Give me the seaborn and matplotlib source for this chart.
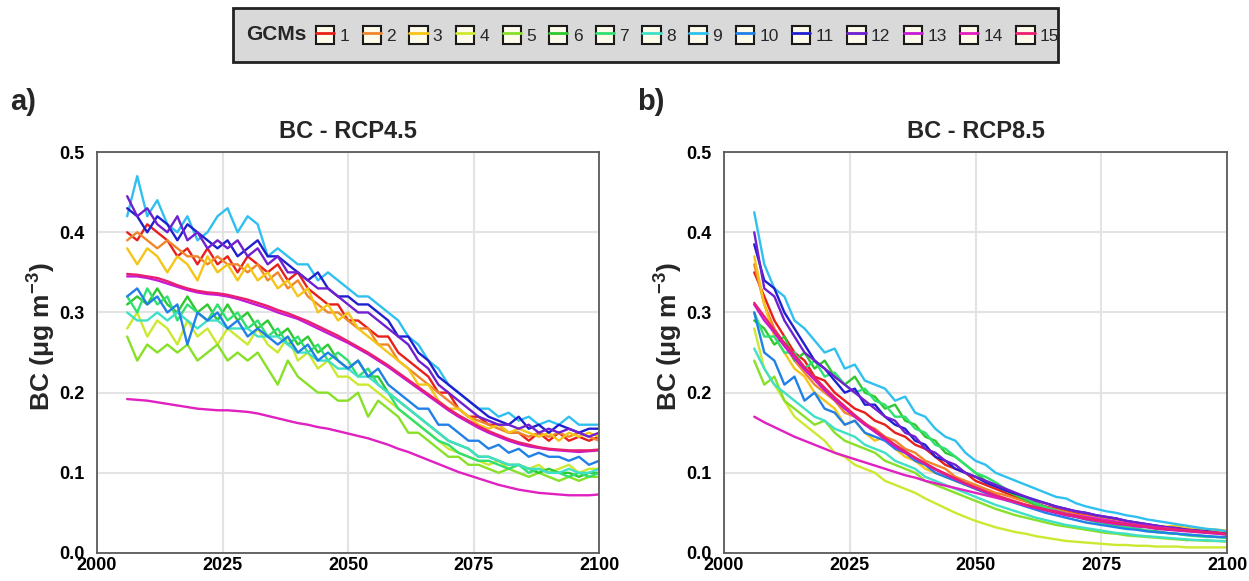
import numpy as np
import pandas as pd
import seaborn as sns
import matplotlib
matplotlib.use("Agg")
import matplotlib.pyplot as plt
from matplotlib.patches import Rectangle
from matplotlib.lines import Line2D

# ---------------- data ----------------
years = list(range(2006, 2101, 2))
gcm_labels = [str(i) for i in range(1, 16)]
gcm_colors = ["#e8201c", "#f0862c", "#f5c518", "#cde830", "#88e028", "#30c830",
              "#30e070", "#40e0c8", "#30c0f0", "#2080e8", "#2020d0", "#7020d0",
              "#c818d8", "#e020c0", "#e82070"]

rcp45 = {
    "1": [0.40, 0.39, 0.41, 0.40, 0.39, 0.37, 0.38, 0.36, 0.38, 0.36, 0.37, 0.35,
          0.37, 0.36, 0.35, 0.36, 0.34, 0.35, 0.33, 0.32, 0.31, 0.31, 0.29, 0.29,
          0.28, 0.27, 0.27, 0.25, 0.24, 0.23, 0.22, 0.20, 0.20, 0.18, 0.17, 0.17,
          0.16, 0.16, 0.15, 0.15, 0.14, 0.15, 0.14, 0.15, 0.14, 0.145, 0.14, 0.145],
    "2": [0.39, 0.40, 0.39, 0.38, 0.39, 0.38, 0.37, 0.37, 0.36, 0.37, 0.36, 0.36,
          0.35, 0.36, 0.34, 0.35, 0.33, 0.34, 0.32, 0.31, 0.30, 0.30, 0.29, 0.28,
          0.28, 0.26, 0.26, 0.24, 0.23, 0.22, 0.21, 0.20, 0.19, 0.18, 0.17, 0.165,
          0.16, 0.155, 0.15, 0.15, 0.145, 0.15, 0.145, 0.15, 0.145, 0.15, 0.145, 0.14],
    "3": [0.38, 0.36, 0.38, 0.37, 0.35, 0.37, 0.36, 0.34, 0.37, 0.35, 0.36, 0.34,
          0.36, 0.34, 0.35, 0.33, 0.34, 0.32, 0.33, 0.30, 0.31, 0.29, 0.30, 0.28,
          0.27, 0.26, 0.25, 0.24, 0.23, 0.21, 0.21, 0.19, 0.18, 0.18, 0.17, 0.16,
          0.155, 0.16, 0.15, 0.155, 0.15, 0.145, 0.15, 0.14, 0.15, 0.145, 0.15, 0.145],
    "4": [0.28, 0.30, 0.27, 0.29, 0.28, 0.26, 0.29, 0.27, 0.28, 0.26, 0.28, 0.27,
          0.26, 0.28, 0.26, 0.25, 0.27, 0.24, 0.25, 0.23, 0.24, 0.22, 0.22, 0.21,
          0.21, 0.20, 0.19, 0.18, 0.17, 0.16, 0.15, 0.14, 0.13, 0.125, 0.12, 0.115,
          0.11, 0.115, 0.105, 0.11, 0.105, 0.11, 0.10, 0.105, 0.11, 0.10, 0.105, 0.105],
    "5": [0.27, 0.24, 0.26, 0.25, 0.26, 0.25, 0.26, 0.24, 0.25, 0.26, 0.24, 0.25,
          0.24, 0.25, 0.23, 0.21, 0.24, 0.22, 0.21, 0.20, 0.20, 0.19, 0.19, 0.20,
          0.17, 0.19, 0.18, 0.17, 0.15, 0.15, 0.14, 0.13, 0.12, 0.12, 0.11, 0.11,
          0.105, 0.10, 0.105, 0.10, 0.095, 0.10, 0.095, 0.09, 0.095, 0.09, 0.095, 0.095],
    "6": [0.31, 0.32, 0.31, 0.33, 0.31, 0.30, 0.32, 0.30, 0.31, 0.29, 0.31, 0.29,
          0.30, 0.28, 0.29, 0.27, 0.28, 0.26, 0.27, 0.25, 0.26, 0.24, 0.23, 0.24,
          0.22, 0.22, 0.20, 0.19, 0.18, 0.17, 0.16, 0.15, 0.14, 0.135, 0.13, 0.12,
          0.12, 0.115, 0.11, 0.11, 0.105, 0.10, 0.105, 0.10, 0.10, 0.095, 0.10, 0.10],
    "7": [0.32, 0.30, 0.33, 0.31, 0.32, 0.29, 0.31, 0.30, 0.29, 0.31, 0.29, 0.30,
          0.28, 0.29, 0.27, 0.28, 0.26, 0.27, 0.25, 0.26, 0.24, 0.25, 0.24, 0.22,
          0.23, 0.21, 0.20, 0.18, 0.17, 0.16, 0.15, 0.14, 0.135, 0.125, 0.12, 0.115,
          0.115, 0.11, 0.105, 0.11, 0.10, 0.105, 0.10, 0.10, 0.095, 0.10, 0.095, 0.10],
    "8": [0.30, 0.29, 0.29, 0.30, 0.29, 0.30, 0.29, 0.28, 0.29, 0.29, 0.28, 0.28,
          0.28, 0.27, 0.27, 0.27, 0.26, 0.25, 0.25, 0.24, 0.24, 0.23, 0.23, 0.22,
          0.22, 0.21, 0.20, 0.19, 0.18, 0.17, 0.16, 0.15, 0.14, 0.135, 0.13, 0.12,
          0.12, 0.115, 0.11, 0.11, 0.105, 0.105, 0.10, 0.10, 0.105, 0.10, 0.10, 0.105],
    "9": [0.42, 0.47, 0.42, 0.44, 0.41, 0.40, 0.42, 0.39, 0.40, 0.42, 0.43, 0.40,
          0.42, 0.41, 0.37, 0.38, 0.37, 0.36, 0.36, 0.34, 0.35, 0.34, 0.33, 0.32,
          0.32, 0.31, 0.30, 0.29, 0.27, 0.26, 0.24, 0.23, 0.21, 0.20, 0.19, 0.18,
          0.18, 0.17, 0.175, 0.165, 0.17, 0.16, 0.165, 0.16, 0.17, 0.16, 0.16, 0.16],
    "10": [0.32, 0.33, 0.31, 0.32, 0.30, 0.31, 0.26, 0.30, 0.29, 0.30, 0.28, 0.29,
           0.27, 0.28, 0.27, 0.26, 0.27, 0.25, 0.26, 0.24, 0.25, 0.24, 0.23, 0.24,
           0.22, 0.23, 0.21, 0.20, 0.19, 0.18, 0.18, 0.16, 0.16, 0.15, 0.14, 0.14,
           0.13, 0.135, 0.125, 0.13, 0.12, 0.125, 0.12, 0.12, 0.115, 0.12, 0.11, 0.115],
    "11": [0.43, 0.42, 0.40, 0.42, 0.41, 0.39, 0.41, 0.40, 0.39, 0.38, 0.39, 0.37,
           0.38, 0.39, 0.37, 0.37, 0.36, 0.35, 0.34, 0.35, 0.33, 0.32, 0.32, 0.31,
           0.31, 0.30, 0.29, 0.27, 0.27, 0.25, 0.24, 0.22, 0.21, 0.20, 0.19, 0.18,
           0.17, 0.165, 0.16, 0.17, 0.155, 0.16, 0.15, 0.16, 0.155, 0.15, 0.155, 0.155],
    "12": [0.445, 0.42, 0.43, 0.41, 0.40, 0.42, 0.39, 0.40, 0.38, 0.39, 0.38, 0.39,
           0.37, 0.38, 0.36, 0.37, 0.35, 0.35, 0.34, 0.33, 0.33, 0.32, 0.31, 0.30,
           0.30, 0.29, 0.28, 0.27, 0.26, 0.24, 0.23, 0.21, 0.20, 0.19, 0.18, 0.17,
           0.165, 0.16, 0.16, 0.155, 0.16, 0.15, 0.155, 0.15, 0.155, 0.15, 0.145, 0.15],
    "13": [0.345, 0.345, 0.343, 0.340, 0.336, 0.332, 0.328, 0.325, 0.323, 0.322, 0.320, 0.317,
           0.313, 0.309, 0.305, 0.300, 0.296, 0.292, 0.286, 0.280, 0.274, 0.268, 0.262, 0.255,
           0.248, 0.240, 0.232, 0.223, 0.214, 0.205, 0.196, 0.187, 0.178, 0.170, 0.163, 0.156,
           0.150, 0.145, 0.140, 0.136, 0.133, 0.131, 0.129, 0.128, 0.127, 0.126, 0.127, 0.128],
    "14": [0.192, 0.191, 0.190, 0.188, 0.186, 0.184, 0.182, 0.180, 0.179, 0.178, 0.178, 0.177,
           0.176, 0.174, 0.171, 0.168, 0.165, 0.162, 0.160, 0.157, 0.155, 0.152, 0.149, 0.146,
           0.143, 0.139, 0.135, 0.130, 0.126, 0.121, 0.116, 0.111, 0.106, 0.101, 0.097, 0.093,
           0.089, 0.085, 0.082, 0.079, 0.077, 0.075, 0.074, 0.073, 0.072, 0.072, 0.072, 0.073],
    "15": [0.348, 0.347, 0.345, 0.343, 0.339, 0.334, 0.330, 0.327, 0.325, 0.324, 0.322, 0.319,
           0.316, 0.312, 0.308, 0.303, 0.299, 0.294, 0.289, 0.283, 0.277, 0.271, 0.264, 0.257,
           0.250, 0.242, 0.234, 0.225, 0.216, 0.207, 0.198, 0.189, 0.180, 0.172, 0.165, 0.158,
           0.152, 0.147, 0.142, 0.138, 0.135, 0.132, 0.130, 0.129, 0.128, 0.128, 0.128, 0.129],
}

rcp85 = {
    "1": [0.35, 0.32, 0.29, 0.27, 0.25, 0.24, 0.22, 0.215, 0.20, 0.19, 0.18, 0.175,
          0.165, 0.16, 0.15, 0.145, 0.135, 0.13, 0.12, 0.11, 0.105, 0.10, 0.09, 0.085,
          0.08, 0.075, 0.07, 0.066, 0.062, 0.058, 0.055, 0.052, 0.049, 0.047, 0.044, 0.042,
          0.04, 0.038, 0.036, 0.034, 0.032, 0.031, 0.03, 0.028, 0.027, 0.026, 0.025, 0.024],
    "2": [0.36, 0.31, 0.28, 0.26, 0.24, 0.225, 0.21, 0.20, 0.19, 0.175, 0.17, 0.16,
          0.155, 0.145, 0.14, 0.13, 0.125, 0.115, 0.11, 0.105, 0.095, 0.09, 0.085, 0.08,
          0.075, 0.072, 0.068, 0.064, 0.06, 0.057, 0.054, 0.051, 0.048, 0.046, 0.044, 0.042,
          0.04, 0.038, 0.036, 0.035, 0.033, 0.032, 0.031, 0.03, 0.029, 0.028, 0.027, 0.026],
    "3": [0.37, 0.31, 0.27, 0.25, 0.23, 0.22, 0.20, 0.19, 0.18, 0.16, 0.165, 0.15,
          0.14, 0.145, 0.13, 0.12, 0.115, 0.105, 0.10, 0.095, 0.09, 0.085, 0.08, 0.075,
          0.072, 0.068, 0.064, 0.06, 0.057, 0.054, 0.051, 0.049, 0.047, 0.045, 0.043, 0.041,
          0.039, 0.037, 0.036, 0.035, 0.034, 0.033, 0.034, 0.031, 0.03, 0.03, 0.029, 0.028],
    "4": [0.28, 0.23, 0.21, 0.19, 0.17, 0.16, 0.15, 0.14, 0.125, 0.12, 0.11, 0.105,
          0.10, 0.09, 0.085, 0.08, 0.075, 0.068, 0.062, 0.056, 0.05, 0.045, 0.04, 0.036,
          0.032, 0.029, 0.026, 0.024, 0.021, 0.019, 0.017, 0.015, 0.014, 0.013, 0.012, 0.011,
          0.01, 0.01, 0.009, 0.009, 0.008, 0.008, 0.008, 0.007, 0.007, 0.007, 0.007, 0.007],
    "5": [0.24, 0.21, 0.22, 0.19, 0.18, 0.17, 0.16, 0.165, 0.15, 0.14, 0.135, 0.13,
          0.125, 0.115, 0.11, 0.105, 0.10, 0.09, 0.085, 0.08, 0.075, 0.07, 0.065, 0.06,
          0.055, 0.051, 0.047, 0.044, 0.041, 0.038, 0.035, 0.033, 0.031, 0.029, 0.027, 0.025,
          0.024, 0.022, 0.021, 0.02, 0.019, 0.018, 0.017, 0.016, 0.016, 0.015, 0.015, 0.014],
    "6": [0.29, 0.28, 0.26, 0.27, 0.24, 0.25, 0.23, 0.24, 0.22, 0.21, 0.22, 0.20,
          0.195, 0.18, 0.185, 0.165, 0.16, 0.145, 0.14, 0.125, 0.12, 0.11, 0.10, 0.09,
          0.085, 0.078, 0.072, 0.066, 0.06, 0.056, 0.052, 0.048, 0.045, 0.042, 0.039, 0.036,
          0.034, 0.032, 0.03, 0.028, 0.027, 0.025, 0.024, 0.023, 0.022, 0.021, 0.02, 0.019],
    "7": [0.30, 0.27, 0.27, 0.25, 0.25, 0.23, 0.24, 0.22, 0.225, 0.21, 0.20, 0.205,
          0.19, 0.185, 0.17, 0.17, 0.155, 0.15, 0.135, 0.13, 0.12, 0.11, 0.10, 0.095,
          0.088, 0.08, 0.074, 0.068, 0.062, 0.057, 0.053, 0.049, 0.045, 0.042, 0.039, 0.036,
          0.034, 0.032, 0.03, 0.028, 0.026, 0.025, 0.024, 0.022, 0.021, 0.02, 0.02, 0.019],
    "8": [0.255, 0.23, 0.21, 0.20, 0.19, 0.18, 0.17, 0.165, 0.155, 0.15, 0.145, 0.135,
          0.13, 0.125, 0.115, 0.11, 0.105, 0.095, 0.09, 0.085, 0.08, 0.075, 0.07, 0.065,
          0.06, 0.056, 0.052, 0.048, 0.044, 0.041, 0.038, 0.035, 0.033, 0.031, 0.029, 0.027,
          0.025, 0.024, 0.022, 0.021, 0.02, 0.019, 0.018, 0.017, 0.016, 0.016, 0.015, 0.015],
    "9": [0.425, 0.36, 0.33, 0.32, 0.29, 0.28, 0.265, 0.25, 0.255, 0.23, 0.235, 0.215,
          0.21, 0.205, 0.19, 0.195, 0.175, 0.17, 0.155, 0.145, 0.14, 0.125, 0.115, 0.11,
          0.10, 0.095, 0.09, 0.085, 0.08, 0.075, 0.07, 0.068, 0.062, 0.058, 0.055, 0.052,
          0.05, 0.047, 0.045, 0.042, 0.04, 0.038, 0.036, 0.034, 0.032, 0.03, 0.029, 0.027],
    "10": [0.30, 0.25, 0.24, 0.21, 0.22, 0.19, 0.20, 0.18, 0.175, 0.16, 0.165, 0.15,
           0.145, 0.14, 0.13, 0.125, 0.115, 0.11, 0.10, 0.095, 0.09, 0.085, 0.08, 0.075,
           0.07, 0.066, 0.062, 0.058, 0.054, 0.05, 0.047, 0.044, 0.041, 0.038, 0.036, 0.034,
           0.032, 0.03, 0.029, 0.027, 0.026, 0.025, 0.024, 0.023, 0.022, 0.021, 0.02, 0.02],
    "11": [0.385, 0.34, 0.33, 0.30, 0.28, 0.26, 0.24, 0.23, 0.215, 0.20, 0.205, 0.185,
           0.185, 0.17, 0.16, 0.155, 0.14, 0.135, 0.12, 0.115, 0.105, 0.10, 0.095, 0.088,
           0.083, 0.078, 0.074, 0.07, 0.066, 0.062, 0.058, 0.055, 0.052, 0.05, 0.047, 0.045,
           0.043, 0.04, 0.038, 0.036, 0.034, 0.032, 0.031, 0.029, 0.028, 0.027, 0.025, 0.024],
    "12": [0.40, 0.33, 0.32, 0.29, 0.27, 0.25, 0.24, 0.23, 0.22, 0.21, 0.20, 0.19,
           0.18, 0.17, 0.165, 0.15, 0.145, 0.13, 0.125, 0.115, 0.11, 0.10, 0.095, 0.09,
           0.085, 0.08, 0.075, 0.07, 0.065, 0.062, 0.058, 0.055, 0.052, 0.05, 0.047, 0.045,
           0.043, 0.04, 0.038, 0.036, 0.034, 0.032, 0.031, 0.029, 0.028, 0.026, 0.025, 0.024],
    "13": [0.31, 0.29, 0.275, 0.258, 0.243, 0.229, 0.216, 0.203, 0.191, 0.18, 0.17, 0.16,
           0.151, 0.142, 0.133, 0.125, 0.118, 0.111, 0.104, 0.098, 0.092, 0.086, 0.081, 0.076,
           0.071, 0.067, 0.063, 0.059, 0.056, 0.053, 0.05, 0.047, 0.045, 0.042, 0.04, 0.038,
           0.036, 0.035, 0.033, 0.032, 0.03, 0.029, 0.028, 0.027, 0.026, 0.025, 0.024, 0.023],
    "14": [0.17, 0.163, 0.157, 0.151, 0.145, 0.14, 0.135, 0.13, 0.125, 0.121, 0.117, 0.113,
           0.109, 0.105, 0.101, 0.097, 0.094, 0.09, 0.087, 0.084, 0.081, 0.078, 0.075, 0.072,
           0.069, 0.066, 0.063, 0.06, 0.057, 0.054, 0.052, 0.049, 0.047, 0.045, 0.043, 0.041,
           0.039, 0.037, 0.035, 0.034, 0.032, 0.031, 0.029, 0.028, 0.027, 0.026, 0.025, 0.023],
    "15": [0.312, 0.295, 0.278, 0.262, 0.247, 0.232, 0.219, 0.206, 0.194, 0.183, 0.172, 0.162,
           0.153, 0.144, 0.135, 0.127, 0.119, 0.112, 0.105, 0.099, 0.093, 0.087, 0.082, 0.077,
           0.072, 0.068, 0.064, 0.06, 0.057, 0.054, 0.051, 0.048, 0.046, 0.043, 0.041, 0.039,
           0.037, 0.036, 0.034, 0.033, 0.031, 0.03, 0.029, 0.028, 0.027, 0.026, 0.025, 0.024],
}

panel_titles = ["BC - RCP4.5", "BC - RCP8.5"]
panel_tags = ["a)", "b)"]
x_ticks = [2000, 2025, 2050, 2075, 2100]
y_ticks = [0.0, 0.1, 0.2, 0.3, 0.4, 0.5]


def to_long(d):
    rows = []
    for g in gcm_labels:
        for yr, v in zip(years, d[g]):
            rows.append((yr, v, g))
    return pd.DataFrame(rows, columns=["year", "bc", "gcm"])


# ---------------- style ----------------
sns.set_theme(style="whitegrid")
plt.rcParams["font.family"] = ["Liberation Sans", "DejaVu Sans"]
plt.rcParams["mathtext.fontset"] = "custom"
plt.rcParams["mathtext.rm"] = "Liberation Sans:bold"
plt.rcParams["mathtext.it"] = "Liberation Sans:italic"
plt.rcParams["mathtext.bf"] = "Liberation Sans:bold"

fig = plt.figure(figsize=(12.49, 5.81), dpi=100)
ax_a = fig.add_axes([0.0777, 0.0482, 0.4019, 0.690])
ax_b = fig.add_axes([0.5797, 0.0482, 0.4027, 0.690])

palette = dict(zip(gcm_labels, gcm_colors))

for ax, data, title, tag in zip([ax_a, ax_b], [rcp45, rcp85], panel_titles, panel_tags):
    df = to_long(data)
    sns.lineplot(data=df, x="year", y="bc", hue="gcm", hue_order=gcm_labels,
                 palette=palette, linewidth=1.7, legend=False, ax=ax)
    ax.set_xlim(2000, 2100)
    ax.set_ylim(0, 0.5)
    ax.set_xticks(x_ticks)
    ax.set_yticks(y_ticks)
    ax.set_yticklabels([f"{v:.1f}" for v in y_ticks])
    ax.tick_params(axis="both", length=0, labelsize=13, colors="black")
    ax.tick_params(axis="y", pad=9)
    ax.tick_params(axis="x", pad=3)
    for lab in ax.get_xticklabels() + ax.get_yticklabels():
        lab.set_fontweight("bold")
    ax.grid(True, color="#e3e3e3", linewidth=1.5)
    for s in ax.spines.values():
        s.set_color("#5a5a5a")
        s.set_linewidth(1.3)
    ax.set_xlabel("")
    ax.set_ylabel(r"BC ($\mathregular{\mu}$g m$^{\mathregular{-3}}$)", fontsize=19,
                  fontweight="bold", labelpad=0)
    ax.yaxis.set_label_coords(-0.078, 0.54)
    ax.set_title(title, fontsize=17, fontweight="bold", pad=10)
    ax.text(-0.173, 1.125, tag, transform=ax.transAxes, fontsize=21, fontweight="bold",
            ha="left", va="center")

# ---------------- legend ----------------
fig.patches.append(Rectangle((233 / 1249, 1 - 62 / 581), 825 / 1249, 54 / 581,
                             transform=fig.transFigure, facecolor="#d9d9d9",
                             edgecolor="#222222", linewidth=2, zorder=0))
fig.text(246 / 1249, 1 - 35 / 581, "GCMs", fontsize=15, fontweight="bold",
         ha="left", va="center")
handles = []
for c in gcm_colors:
    box = Rectangle((0, 0), 1, 1, facecolor="#fffbea", edgecolor="#1a1a1a", linewidth=1.5)
    ln = Line2D([], [], color=c, linewidth=2)
    handles.append((box, ln))
leg = fig.legend(handles, gcm_labels, loc="center left",
                 bbox_to_anchor=(316 / 1249, 1 - 35 / 581), ncol=15, frameon=False,
                 fontsize=12.5, handlelength=1.05, handleheight=1.25, handletextpad=0.3,
                 columnspacing=0.78, borderpad=0, borderaxespad=0)

fig.savefig("out.png", dpi=100)
